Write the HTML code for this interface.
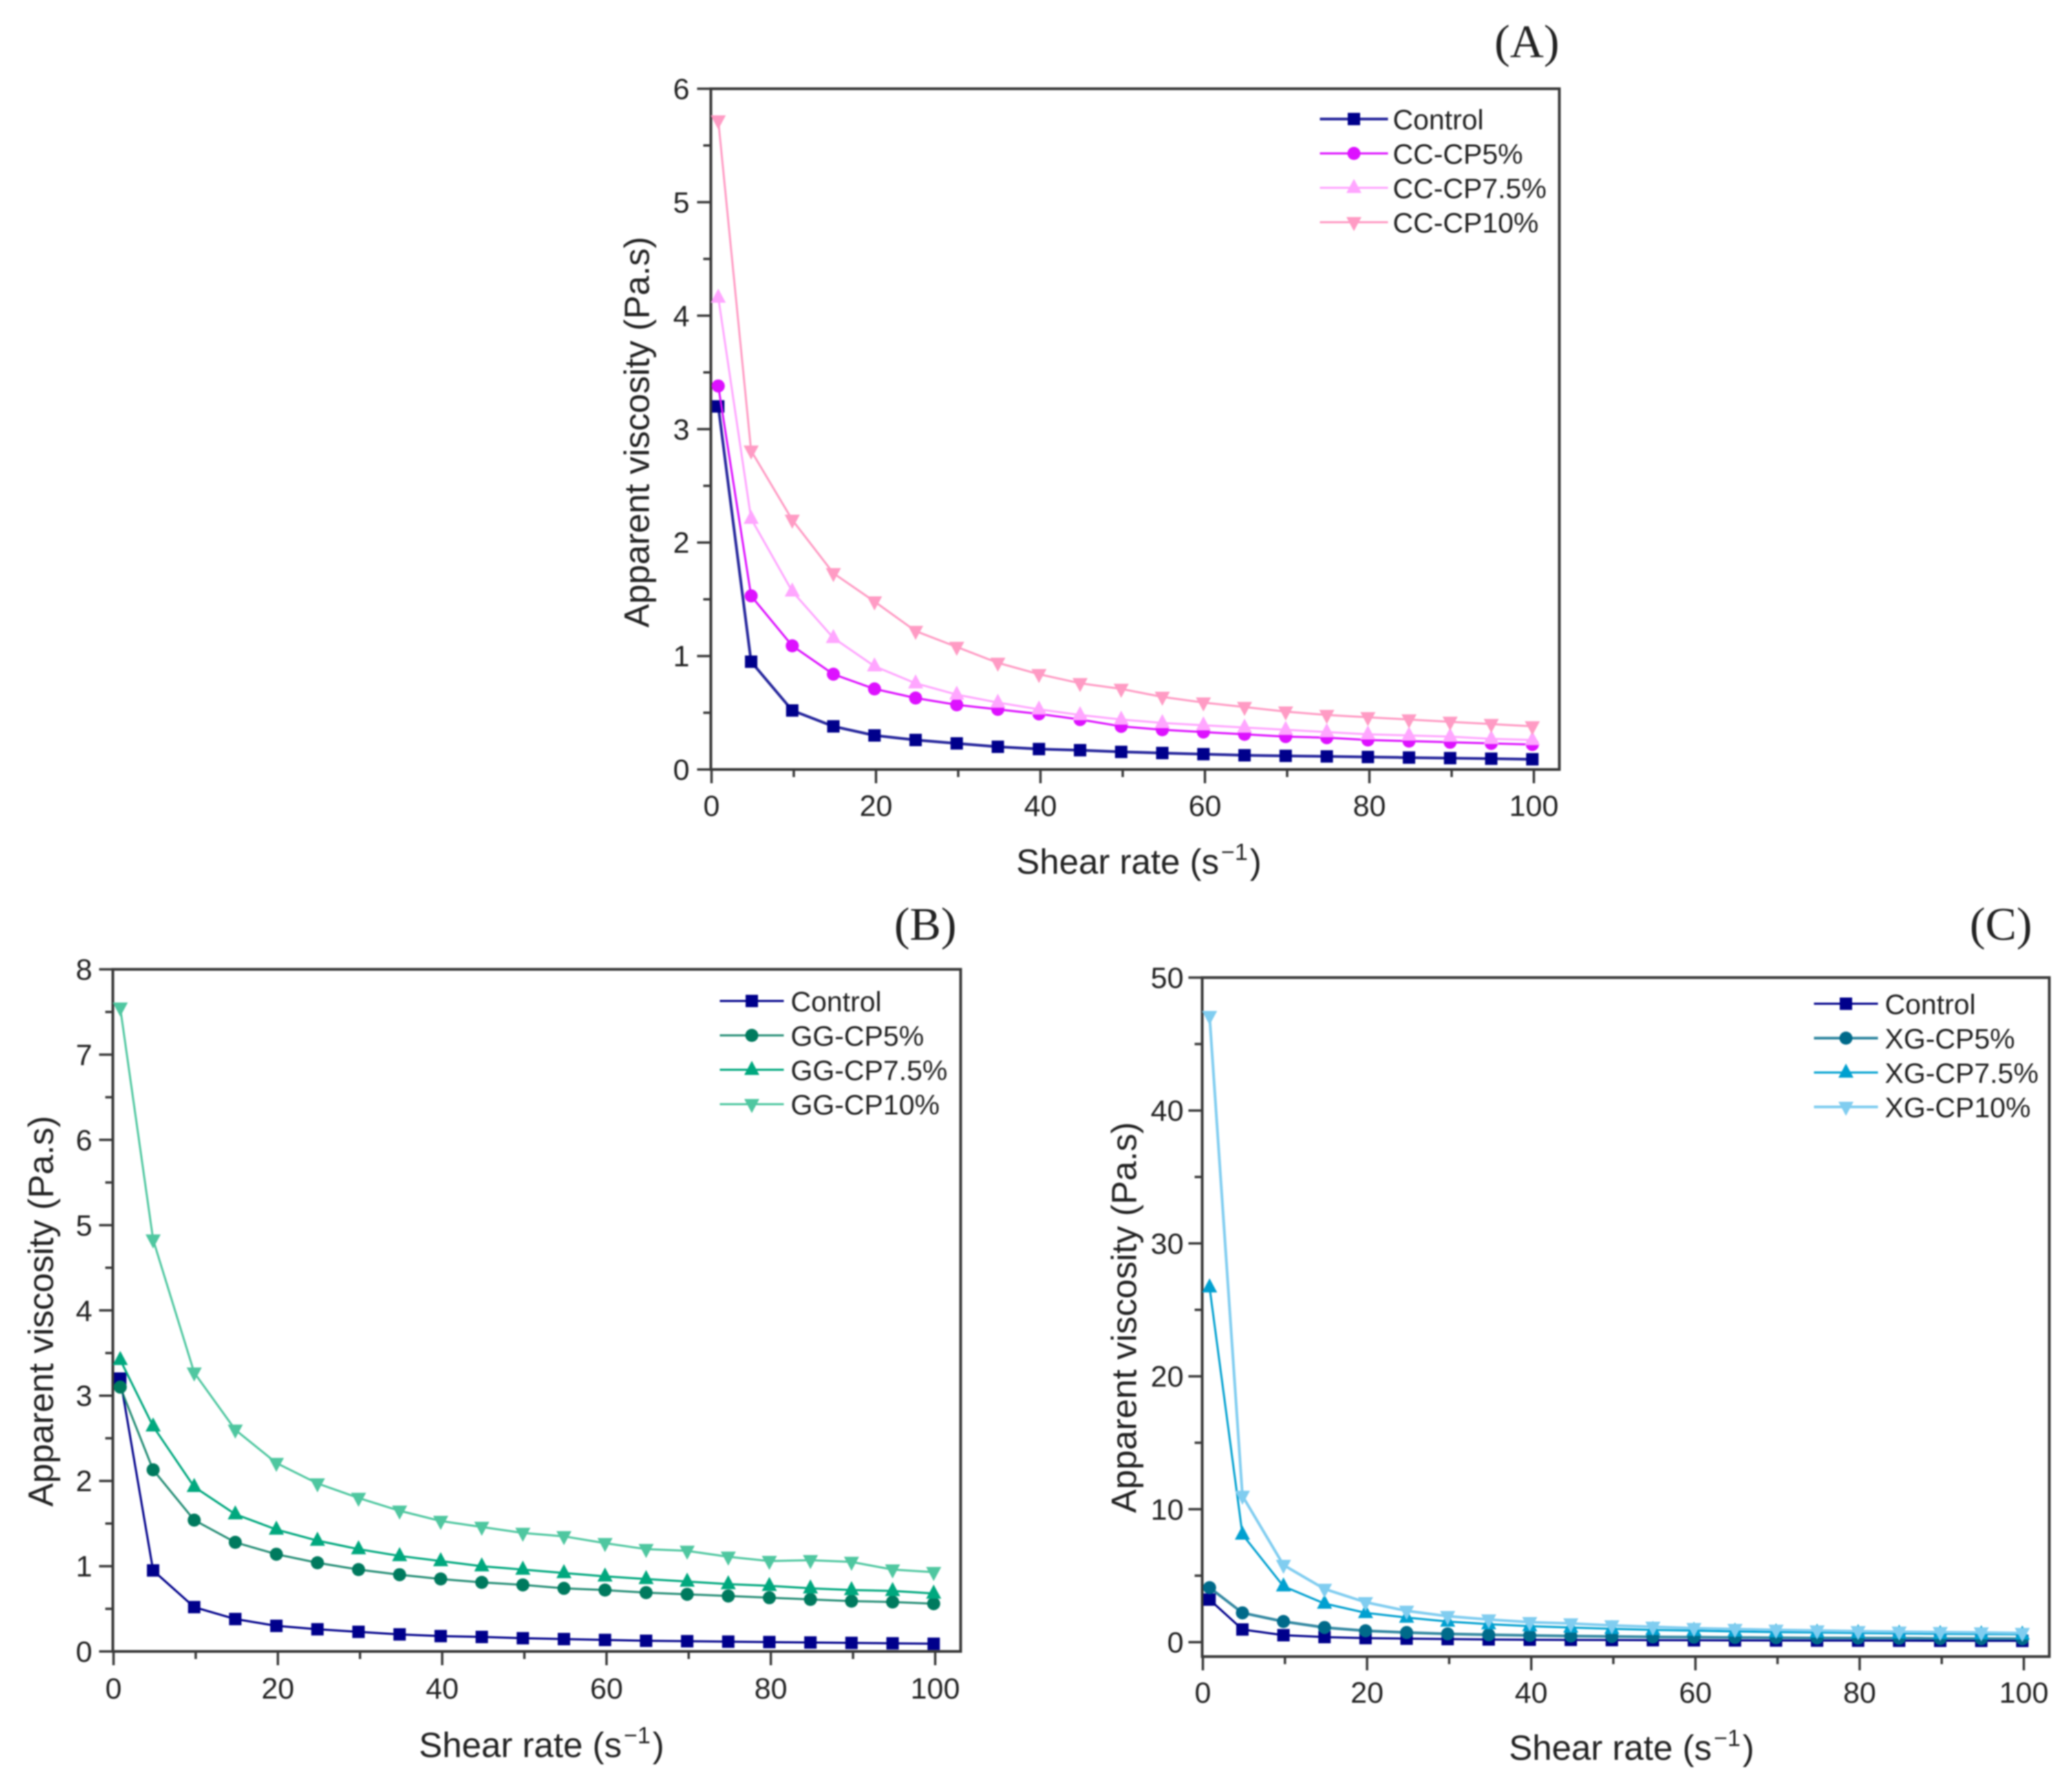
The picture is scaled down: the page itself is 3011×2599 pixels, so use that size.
<!DOCTYPE html>
<html lang="en">
<head>
<meta charset="utf-8">
<title>Apparent viscosity vs shear rate</title>
<style>
html,body{margin:0;padding:0;background:#fff;}
#figure{display:block;width:3011px;height:2599px;filter:blur(1.1px);}
text{font-family:"Liberation Sans",sans-serif;fill:#222;}
.panel-label{font-family:"Liberation Serif",serif;}
</style>
</head>
<body>
<svg id="figure" xmlns="http://www.w3.org/2000/svg" width="3011" height="2599" viewBox="0 0 3011 2599"></svg>
<script>
const shearRates = [1,5,10,15,20,25,30,35,40,45,50,55,60,65,70,75,80,85,90,95,100];
const controlValues = [3.2,0.95,0.52,0.38,0.30,0.26,0.23,0.20,0.18,0.17,0.155,0.145,0.135,0.125,0.12,0.115,0.11,0.105,0.10,0.095,0.09];
const cc5Values = [3.38,1.53,1.09,0.84,0.71,0.63,0.57,0.53,0.49,0.44,0.38,0.35,0.33,0.31,0.29,0.28,0.26,0.25,0.24,0.23,0.22];
const cc75Values = [4.16,2.21,1.57,1.16,0.91,0.76,0.66,0.59,0.53,0.48,0.44,0.41,0.39,0.37,0.35,0.33,0.31,0.30,0.29,0.27,0.26];
const cc10Values = [5.72,2.81,2.20,1.73,1.48,1.22,1.08,0.94,0.84,0.76,0.71,0.64,0.59,0.55,0.51,0.48,0.46,0.44,0.42,0.40,0.38];
const gg5Values = [3.1,2.13,1.54,1.28,1.14,1.04,0.96,0.90,0.85,0.81,0.78,0.74,0.72,0.69,0.67,0.65,0.63,0.61,0.59,0.58,0.56];
const gg75Values = [3.42,2.64,1.93,1.61,1.43,1.30,1.20,1.12,1.06,1.00,0.96,0.92,0.88,0.85,0.82,0.79,0.77,0.74,0.72,0.71,0.68];
const gg10Values = [7.55,4.83,3.27,2.60,2.21,1.97,1.80,1.65,1.53,1.46,1.39,1.35,1.27,1.20,1.18,1.11,1.06,1.07,1.05,0.96,0.93];
const xg5Values = [4.1,2.2,1.55,1.1,0.85,0.72,0.62,0.55,0.5,0.46,0.42,0.39,0.37,0.35,0.33,0.31,0.30,0.29,0.27,0.26,0.25];
const xg75Values = [26.7,8.1,4.2,2.9,2.2,1.85,1.55,1.35,1.2,1.1,1.0,0.92,0.86,0.8,0.75,0.72,0.68,0.65,0.62,0.6,0.58];
const xg10Values = [47.1,11.0,5.8,4.0,3.0,2.35,1.95,1.7,1.5,1.4,1.25,1.15,1.05,0.98,0.92,0.87,0.82,0.78,0.75,0.72,0.68];
const xTickLabels = [0,20,40,60,80,100];
const xMinorTicks = [10,30,50,70,90];
const yTicksA = [0,1,2,3,4,5,6];
const yMinorA = [0.5,1.5,2.5,3.5,4.5,5.5];
const yTicksB = [0,1,2,3,4,5,6,7,8];
const yMinorB = [0.5,1.5,2.5,3.5,4.5,5.5,6.5,7.5];
const yTicksC = [0,10,20,30,40,50];
const yMinorC = [5,15,25,35,45];

const panels = [
  {key:'a', label:'(A)', labelX:2266, labelY:83,
   left:1033, right:2266, top:129, bottom:1118.5, x0:1034, x100:2229, yMin:0, yMax:6,
   yTicks:yTicksA, yMinor:yMinorA, yLabelRight:1002, xLabelY:1186,
   xTitleX:1655, xTitleY:1270, yTitleX:943, yTitleY:628,
   legendY:[173,223,273,323], legendLine:[1918,2017], legendText:2024,
   series:[
     {name:'Control',values:controlValues,color:'#00008b',marker:'square',lineOpacity:0.85,width:4},
     {name:'CC-CP5%',values:cc5Values,color:'#dd11ff',marker:'circle',lineOpacity:1,width:3},
     {name:'CC-CP7.5%',values:cc75Values,color:'#ffa6ff',marker:'up',lineOpacity:1,width:3},
     {name:'CC-CP10%',values:cc10Values,color:'#ff9bc4',marker:'down',lineOpacity:1,width:3}
   ]},
  {key:'b', label:'(B)', labelX:1390, labelY:1366,
   left:164, right:1396, top:1409, bottom:2400.5, x0:165, x100:1359, yMin:0, yMax:8,
   yTicks:yTicksB, yMinor:yMinorB, yLabelRight:134, xLabelY:2469,
   xTitleX:787, xTitleY:2554, yTitleX:77, yTitleY:1906,
   legendY:[1455,1505,1555,1605], legendLine:[1046,1139], legendText:1149,
   series:[
     {name:'Control',values:controlValues,color:'#00008b',marker:'square',lineOpacity:1,width:3},
     {name:'GG-CP5%',values:gg5Values,color:'#007a5e',marker:'circle',lineOpacity:0.85,width:3},
     {name:'GG-CP7.5%',values:gg75Values,color:'#00a87e',marker:'up',lineOpacity:1,width:3},
     {name:'GG-CP10%',values:gg10Values,color:'#4fc7a0',marker:'down',lineOpacity:1,width:3}
   ]},
  {key:'c', label:'(C)', labelX:2953, labelY:1366,
   left:1747, right:2978, top:1421, bottom:2408, x0:1748, x100:2941, yMin:-1.09, yMax:50,
   yTicks:yTicksC, yMinor:yMinorC, yLabelRight:1720, xLabelY:2475,
   xTitleX:2371, xTitleY:2558, yTitleX:1651, yTitleY:1915,
   legendY:[1459,1509,1559,1609], legendLine:[2636,2729], legendText:2739,
   series:[
     {name:'Control',values:controlValues,color:'#00008b',marker:'square',lineOpacity:1,width:3},
     {name:'XG-CP5%',values:xg5Values,color:'#006a8a',marker:'circle',lineOpacity:0.8,width:4},
     {name:'XG-CP7.5%',values:xg75Values,color:'#00a0d0',marker:'up',lineOpacity:1,width:3},
     {name:'XG-CP10%',values:xg10Values,color:'#80cdf0',marker:'down',lineOpacity:1,width:4}
   ]}
];

const markerOffsetX = -2.2;
const svgNS = 'http://www.w3.org/2000/svg';
const root = document.getElementById('figure');

function add(parent, tag, attrs) {
  const el = document.createElementNS(svgNS, tag);
  for (const k in attrs) el.setAttribute(k, attrs[k]);
  parent.appendChild(el);
  return el;
}

function drawMarker(parent, kind, cx, cy, color, seriesName) {
  let el;
  if (kind === 'square') {
    el = add(parent, 'rect', {x:cx-9, y:cy-9, width:18, height:18, fill:color});
  } else if (kind === 'circle') {
    el = add(parent, 'circle', {cx:cx, cy:cy, r:9.5, fill:color});
  } else if (kind === 'up') {
    el = add(parent, 'polygon', {points:`${cx},${cy-13} ${cx+11},${cy+7.5} ${cx-11},${cy+7.5}`, fill:color});
  } else {
    el = add(parent, 'polygon', {points:`${cx},${cy+13} ${cx+11},${cy-7.5} ${cx-11},${cy-7.5}`, fill:color});
  }
  
  
}

function drawPanel(p) {
  const g = add(root, 'g', {});
  
  

  const xScale = v => p.x0 + (v / 100) * (p.x100 - p.x0);
  const yScale = v => p.bottom - ((v - p.yMin) / (p.yMax - p.yMin)) * (p.bottom - p.top);
  const axisColor = '#3a3a3a';

  const panelLabel = add(g, 'text', {x:p.labelX, y:p.labelY, 'text-anchor':'end', 'font-size':68, class:'panel-label'});
  panelLabel.textContent = p.label;
  
  

  const frame = add(g, 'rect', {x:p.left, y:p.top, width:p.right-p.left, height:p.bottom-p.top, fill:'#fff', stroke:axisColor, 'stroke-width':4});
  
  

  xTickLabels.forEach(v => {
    const px = xScale(v);
    const tick = add(g, 'line', {x1:px, x2:px, y1:p.bottom, y2:p.bottom+20, stroke:axisColor, 'stroke-width':3.5});
    
    
    const label = add(g, 'text', {x:px, y:p.xLabelY, 'text-anchor':'middle', 'font-size':43});
    label.textContent = v;
    
    
  });
  xMinorTicks.forEach(v => {
    const px = xScale(v);
    const tick = add(g, 'line', {x1:px, x2:px, y1:p.bottom, y2:p.bottom+11, stroke:axisColor, 'stroke-width':3.5});
    
    
  });
  p.yTicks.forEach(v => {
    const py = yScale(v);
    const tick = add(g, 'line', {x1:p.left-20, x2:p.left, y1:py, y2:py, stroke:axisColor, 'stroke-width':3.5});
    
    
    const label = add(g, 'text', {x:p.yLabelRight, y:py+15, 'text-anchor':'end', 'font-size':43});
    label.textContent = v;
    
    
  });
  p.yMinor.forEach(v => {
    const py = yScale(v);
    const tick = add(g, 'line', {x1:p.left-11, x2:p.left, y1:py, y2:py, stroke:axisColor, 'stroke-width':3.5});
    
    
  });

  const xTitle = add(g, 'text', {x:p.xTitleX, y:p.xTitleY, 'text-anchor':'middle', 'font-size':51});
  
  
  add(xTitle, 'tspan', {}).textContent = 'Shear rate (s';
  add(xTitle, 'tspan', {dy:-20, dx:3, 'font-size':34}).textContent = '\u22121';
  add(xTitle, 'tspan', {dy:20, dx:3}).textContent = ')';

  const yTitle = add(g, 'text', {x:p.yTitleX, y:p.yTitleY, 'text-anchor':'middle', 'font-size':51.4, transform:`rotate(-90 ${p.yTitleX} ${p.yTitleY})`});
  yTitle.textContent = 'Apparent viscosity (Pa.s)';
  
  

  p.series.forEach((s, i) => {
    const sg = add(g, 'g', {});
    
    
    const pts = s.values.map((v, j) => `${(xScale(shearRates[j]) + markerOffsetX).toFixed(1)},${yScale(v).toFixed(1)}`).join(' ');
    const line = add(sg, 'polyline', {points:pts, fill:'none', stroke:s.color, 'stroke-width':s.width, 'stroke-opacity':s.lineOpacity});
    
    
    s.values.forEach((v, j) => {
      drawMarker(sg, s.marker, xScale(shearRates[j]) + markerOffsetX, yScale(v), s.color, 'series-point');
    });

    const ly = p.legendY[i];
    const entry = add(g, 'g', {});
    
    
    const swatch = add(entry, 'line', {x1:p.legendLine[0], x2:p.legendLine[1], y1:ly, y2:ly, stroke:s.color, 'stroke-width':s.width, 'stroke-opacity':s.lineOpacity});
    
    
    drawMarker(entry, s.marker, (p.legendLine[0] + p.legendLine[1]) / 2, ly, s.color, 'legend');
    const text = add(entry, 'text', {x:p.legendText, y:ly+15, 'font-size':41});
    text.textContent = s.name;
    
    
  });
}

panels.forEach(drawPanel);
</script>
</body>
</html>
